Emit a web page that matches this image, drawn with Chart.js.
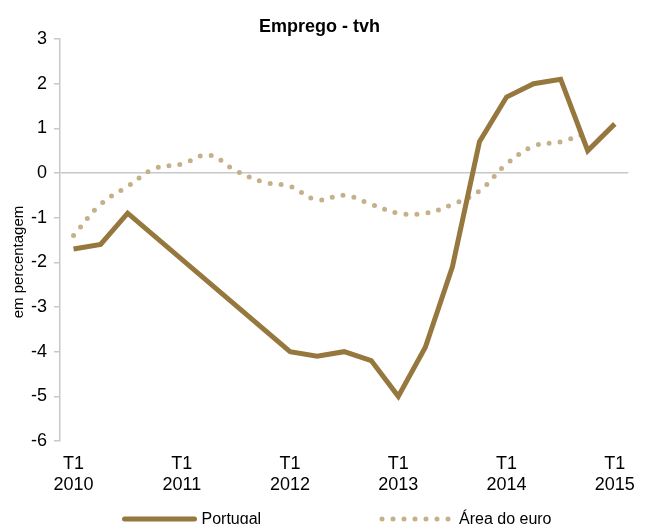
<!DOCTYPE html>
<html>
<head>
<meta charset="utf-8">
<script src="https://cdn.jsdelivr.net/npm/chart.js@4"></script>
<style>
    html, body { margin: 0; padding: 0; background: #fff; overflow: hidden; }
    #wrap { position: relative; width: 647px; height: 524px; }
</style>
</head>
<body>
<div id="wrap"><canvas id="chart"></canvas></div>
<script>
const quarters = [
    'T1 2010', 'T2 2010', 'T3 2010', 'T4 2010',
    'T1 2011', 'T2 2011', 'T3 2011', 'T4 2011',
    'T1 2012', 'T2 2012', 'T3 2012', 'T4 2012',
    'T1 2013', 'T2 2013', 'T3 2013', 'T4 2013',
    'T1 2014', 'T2 2014', 'T3 2014', 'T4 2014',
    'T1 2015',
];
// gap in 2010-2011 (series break), joined with a straight segment
const portugal = [-1.7, -1.6, -0.9, null, null, null, null, null, -4.0, -4.1, -4.0, -4.2, -5.0, -3.9, -2.1, 0.7, 1.7, 2.0, 2.1, 0.5, 1.1];
const euroArea = [-1.4, -0.7, -0.3, 0.1, 0.2, 0.4, 0.05, -0.2, -0.3, -0.6, -0.5, -0.7, -0.9, -0.9, -0.7, -0.4, 0.2, 0.6, 0.7, 0.9, null];
const seriesNames = ['Portugal', 'Área do euro'];
const chartTitle = 'Emprego - tvh';
const yTitle = 'em percentagem';

const FONT = '"Liberation Sans", Arial, sans-serif';
Chart.defaults.font.family = FONT;

const axisTitle = {
    id: 'axisTitle',
    afterDraw(chart) {
        const { ctx, chartArea } = chart;
        ctx.save();
        ctx.translate(19, (chartArea.top + chartArea.bottom) / 2 + 22);
        ctx.rotate(-Math.PI / 2);
        ctx.font = '15px ' + FONT;
        ctx.fillStyle = '#000';
        ctx.textAlign = 'center';
        ctx.textBaseline = 'middle';
        ctx.fillText(yTitle, 0, 0);
        ctx.restore();
    },
};

const lineLegend = {
    id: 'lineLegend',
    afterDraw(chart) {
        const { ctx } = chart;
        const y = 519;
        const starts = [124.5, 382];
        chart.data.datasets.forEach((ds, i) => {
            const x = starts[i];
            ctx.save();
            ctx.strokeStyle = ds.borderColor;
            ctx.lineWidth = ds.borderWidth;
            ctx.lineCap = 'round';
            ctx.setLineDash(ds.borderDash || []);
            ctx.beginPath();
            ctx.moveTo(x, y);
            ctx.lineTo(x + 70, y);
            ctx.stroke();
            ctx.setLineDash([]);
            ctx.font = '16px ' + FONT;
            ctx.fillStyle = '#000';
            ctx.textBaseline = 'alphabetic';
            ctx.fillText(ds.label, x + 77, 524);
            ctx.restore();
        });
    },
};

new Chart(document.getElementById('chart'), {
    type: 'line',
    data: {
        labels: quarters,
        datasets: [
            {
                label: seriesNames[0],
                data: portugal,
                borderColor: '#96783e',
                borderWidth: 5,
                pointRadius: 0,
                tension: 0,
                spanGaps: true,
                borderJoinStyle: 'miter',
                fill: false,
            },
            {
                label: seriesNames[1],
                data: euroArea,
                borderColor: '#c6b08a',
                borderWidth: 5,
                borderDash: [0, 11],
                borderCapStyle: 'round',
                pointRadius: 0,
                tension: 0.4,
                fill: false,
            },
        ],
    },
    options: {
        responsive: true,
        maintainAspectRatio: false,
        animation: false,
        layout: { padding: { left: 0, right: 8, top: 0, bottom: 15.8 } },
        plugins: {
            legend: { display: false },
            tooltip: { enabled: false },
            title: {
                display: true,
                text: chartTitle,
                color: '#000',
                font: { size: 18, weight: 'bold' },
                padding: { top: 16, bottom: 1.4 },
            },
        },
        scales: {
            x: {
                offset: true,
                grid: { display: false, drawTicks: false },
                border: { display: false },
                ticks: {
                    autoSkip: false,
                    maxRotation: 0,
                    padding: 12,
                    color: '#000',
                    font: { size: 18 },
                    callback: (value, index) => {
                        const q = quarters[index];
                        return q.startsWith('T1') ? q.split(' ') : '';
                    },
                },
            },
            y: {
                min: -6,
                max: 3,
                ticks: { stepSize: 1, padding: 7, color: '#000', font: { size: 18 } },
                grid: {
                    color: (ctx) => (ctx.tick && ctx.tick.value === 0 ? '#c8c8c8' : 'transparent'),
                    tickColor: '#c8c8c8',
                    tickLength: 6,
                    lineWidth: 1.5,
                },
                border: { color: '#c8c8c8', width: 1.5 },
                afterFit: (scale) => { scale.width = 60; },
            },
        },
    },
    plugins: [axisTitle, lineLegend],
});
</script>
</body>
</html>
